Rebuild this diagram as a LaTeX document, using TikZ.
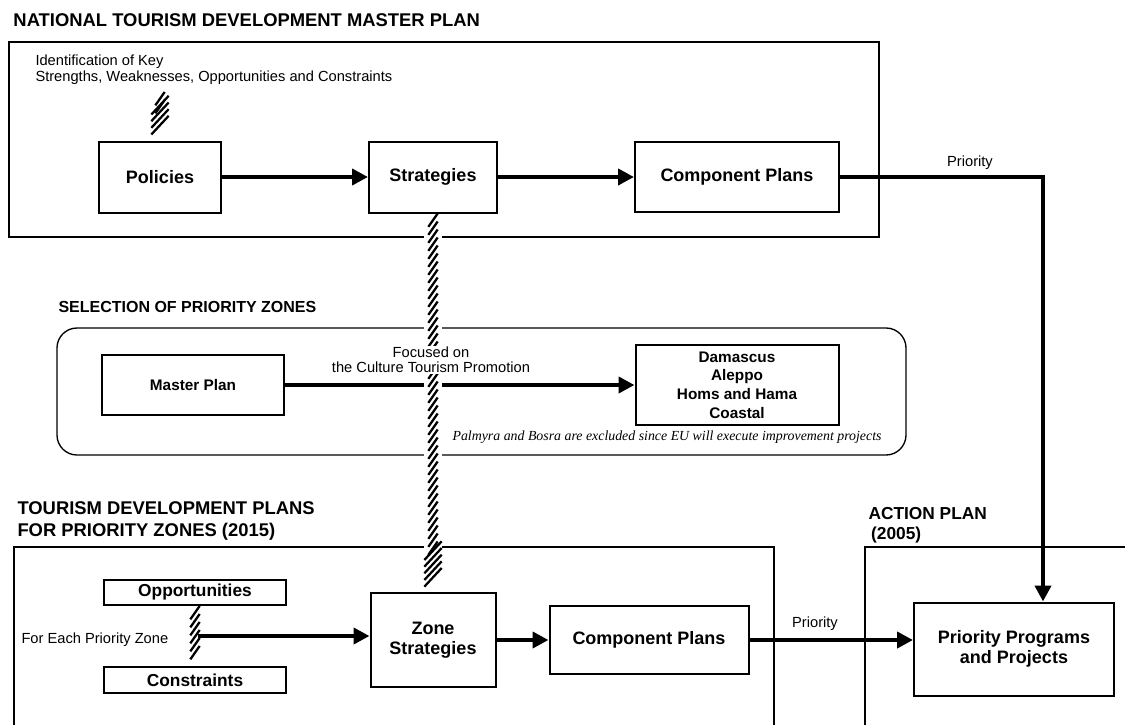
\documentclass[tikz,border=0pt]{standalone}
\usepackage{fontspec}
\setmainfont{Liberation Sans}
\newfontfamily\notefont{Liberation Serif}
\usetikzlibrary{arrows.meta,calc,decorations.markings}

\tikzset{every picture/.style={line width=0.75pt}}
\tikzset{
  blk/.style={draw, line width=1.5pt, align=center, inner sep=1pt, font=\bfseries\fontsize{13.5}{15}\selectfont},
  sblk/.style={blk, font=\bfseries\fontsize{11.5}{14}\selectfont},
  flow/.style={line width=3pt, -{Triangle[length=12pt,width=12pt]}},
  frame/.style={line width=1.5pt},
  ttl/.style={anchor=west, inner sep=0.75pt, align=left, font=\bfseries\fontsize{13.8}{16.5}\selectfont},
  txt/.style={inner sep=0.75pt, align=left, font=\fontsize{11}{12}\selectfont},
  hatch/.style={preaction={draw=white, line width=13pt}, postaction={decorate},
    decoration={markings, mark=between positions 10pt and 1 step 6pt with
      {\draw[line width=1.7pt] (0pt,-3.5pt) -- (-10pt,3.5pt);}}},
  hatchhead/.style={preaction={draw=white, line width=18pt}, postaction={decorate},
    decoration={markings, mark=between positions 0pt and 1 step 5pt with
      {\draw[line width=1.7pt] (0pt,-6.5pt) -- (-14pt,6.5pt);}}}
}

\begin{document}
\begin{tikzpicture}[x=0.75pt,y=0.75pt,yscale=-1,xscale=1]
\useasboundingbox (0,0) rectangle (1125,725);

%Shape: Rectangle [master plan frame]
\draw [frame] (9,42) rectangle (879,237);
%Shape: Rounded Rectangle [priority zones]
\draw [line width=1pt, rounded corners=15pt] (57,328) rectangle (906,455);
%Shape: open frames [zone plans, action plan]
\draw [frame] (14,725) -- (14,547) -- (774,547) -- (774,725);
\draw [frame] (865,725) -- (865,547) -- (1125,547);

%Shape: Boxes
\node [blk, minimum width=91.5pt, minimum height=53.25pt] (pol) at (160,177) {Policies};
\node [blk, minimum width=96pt, minimum height=53.25pt] (strat) at (433,177) {Strategies};
\node [blk, minimum width=153pt, minimum height=52.5pt] (comp) at (737,177) {Component Plans};
\node [sblk, minimum width=136.5pt, minimum height=45pt] (master) at (193,385) {Master Plan};
\node [sblk, minimum width=152.25pt, minimum height=60pt] (zones) at (737,385) {Damascus\\Aleppo\\Homs and Hama\\Coastal};
\node [blk, font=\bfseries\fontsize{13}{14}\selectfont, minimum width=136.5pt, minimum height=18.75pt, inner sep=0pt] (opp) at (195,592.5) {Opportunities};
\node [blk, font=\bfseries\fontsize{13}{14}\selectfont, minimum width=136.5pt, minimum height=19.5pt, inner sep=0pt] (cons) at (195,680) {Constraints};
\node [blk, minimum width=93.75pt, minimum height=70.5pt] (zstrat) at (433,640) {Zone\\Strategies};
\node [blk, minimum width=149.25pt, minimum height=51pt] (zcomp) at (649,640) {Component Plans};
\node [blk, minimum width=150pt, minimum height=69.75pt] (progs) at (1014,649) {Priority Programs\\and Projects};

%Straight Lines [flows]
\draw [flow] (pol) -- (strat);
\draw [flow] (strat) -- (comp);
\coordinate (turn) at (1043,177);
\draw [flow, line width=3.5pt] (comp.east) -- (turn) -- (turn |- progs.north);
\draw [flow] (master) -- (zones);
\draw [flow] (zstrat) -- (zstrat -| zcomp.west);
\draw [flow] (zcomp.east) -- (zcomp.east -| progs.west);

%Hatched links
\coordinate (swot) at (160,92);
\path [hatch] (swot) -- ($(pol.north)+(0,-26)$);
\path [hatchhead] ($(pol.north)+(0,-26)$) -- (pol.north);
\path [hatch] (strat.south) -- ($(zstrat.north)+(0,-32)$);
\path [hatchhead] ($(zstrat.north)+(0,-32)$) -- (zstrat.north);
\path [hatch] (opp.south) -- (cons.north);
\coordinate (each) at ($(opp.south)!0.5!(cons.north)$);
\draw [flow] ($(each)+(3,0)$) -- (each -| zstrat.west);

% Text Node
\node [ttl] (ttlmaster) at (12,20) {NATIONAL TOURISM DEVELOPMENT MASTER PLAN};
% Text Node
\node [txt, anchor=west] (swottxt) at (34,70) {Identification of Key\\Strengths, Weaknesses, Opportunities and Constraints};
% Text Node
\node [txt] (prio1) at (970,163) {Priority};
% Text Node
\node [ttl, font=\bfseries\fontsize{12}{14}\selectfont] (ttlsel) at (57,307) {SELECTION OF PRIORITY ZONES};
% Text Node
\node [txt, align=center, fill=white, font=\fontsize{11}{11.5}\selectfont] (focus) at (431,360) {Focused on\\the Culture Tourism Promotion};
% Text Node
\node [inner sep=0.75pt, anchor=east, font=\notefont\itshape\fontsize{10.4}{12}\selectfont] (note) at (883,437) {Palmyra and Bosra are excluded since EU will execute improvement projects};
% Text Node
\node [ttl] (ttlzone) at (16,521) {TOURISM DEVELOPMENT PLANS\\FOR PRIORITY ZONES (2015)};
% Text Node
\node [ttl, font=\bfseries\fontsize{13}{15}\selectfont] (ttlaction) at (867,525) {ACTION PLAN\\\hspace{2pt}(2005)};
% Text Node
\node [txt, anchor=west] (foreach) at (20,640) {For Each Priority Zone};
% Text Node
\node [txt] (prio2) at (815,624) {Priority};

\end{tikzpicture}
\end{document}
